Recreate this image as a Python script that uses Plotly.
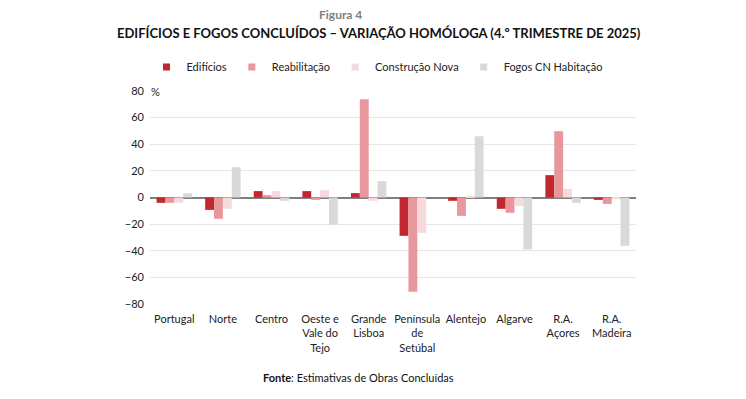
import plotly.graph_objects as go

categories = ["Portugal", "Norte", "Centro", "Oeste e<br>Vale do<br>Tejo", "Grande<br>Lisboa",
              "Península<br>de<br>Setúbal", "Alentejo", "Algarve", "R.A.<br>Açores", "R.A.<br>Madeira"]
edificios = [-4.0, -9.3, 4.8, 4.8, 3.3, -28.8, -2.5, -8.5, 16.8, -1.8]
reabilitacao = [-4.0, -16.0, 1.8, -1.8, 73.8, -70.8, -13.8, -11.5, 49.8, -4.8]
construcao_nova = [-4.0, -8.5, 4.8, 5.5, -2.5, -26.5, 1.0, -6.3, 6.5, -1.3]
fogos_cn = [3.2, 22.8, -2.5, -20.5, 12.3, 0.0, 46.0, -39.0, -4.0, -36.3]
y_ticks = [-80, -60, -40, -20, 0, 20, 40, 60, 80]

series = [
    ("Edifícios", edificios, "#C0272F"),
    ("Reabilitação", reabilitacao, "#E8979D"),
    ("Construção Nova", construcao_nova, "#F8D9DB"),
    ("Fogos CN Habitação", fogos_cn, "#D9D9D9"),
]

# The page body has an 8px default margin; the figure is sized to fit the 746x399 window.
OFF = 8
W, H = 746 - OFF, 399 - OFF
PL, PR, PT, PB = 150 - OFF, 636 - OFF, 91 - OFF, 304 - OFF  # plot area in figure px
PW, PH = PR - PL, PB - PT

def px(xp):  # page x -> paper x
    return (xp - OFF - PL) / PW

def py(yp):  # page y -> paper y
    return (PB - (yp - OFF)) / PH

FONT = "Lato"
fig = go.Figure()
for name, vals, col in series:
    fig.add_trace(go.Bar(x=categories, y=vals, name=name, marker_color=col,
                         marker_line_width=0, showlegend=False))
for name, vals, col in series:
    fig.add_trace(go.Scatter(x=[None], y=[None], mode="markers", name=name,
                             marker=dict(symbol="square", size=7, color=col)))

fig.update_layout(
    width=W, height=H,
    margin=dict(l=PL, r=W - PR, t=PT, b=H - PB),
    paper_bgcolor="white", plot_bgcolor="white",
    barmode="group", bargap=0.27, bargroupgap=0,
    font=dict(family=FONT, size=11, color="#222222"),
    showlegend=True,
    legend=dict(orientation="h", x=px(377), xanchor="center",
                y=1 - (67 - OFF) / H, yanchor="middle", yref="container",
                font=dict(size=11, color="#222222"), tracegroupgap=0),
    xaxis=dict(showgrid=False, showline=False, ticks="", tickangle=0,
               tickfont=dict(size=11), ticklabelstandoff=7, automargin=False),
    yaxis=dict(range=[-80, 80], tickvals=y_ticks, showgrid=True, gridcolor="#E6E6E6",
               gridwidth=1, zeroline=True, zerolinecolor="#7F7F7F", zerolinewidth=1.5,
               showline=False, ticks="", ticklabelstandoff=5, tickfont=dict(size=11),
               automargin=False),
)

fig.add_annotation(text="Figura 4", xref="paper", yref="paper", x=px(340), y=py(15),
                   xanchor="center", yanchor="middle", showarrow=False,
                   font=dict(size=12, color="#7F7F7F", family=FONT, weight="bold"))
fig.add_annotation(text="<b>EDIFÍCIOS E FOGOS CONCLUÍDOS – VARIAÇÃO HOMÓLOGA (4.º TRIMESTRE DE 2025)</b>",
                   xref="paper", yref="paper", x=px(379), y=py(33),
                   xanchor="center", yanchor="middle", showarrow=False,
                   font=dict(size=13, color="#111111", family=FONT))
fig.add_annotation(text="%", xref="paper", yref="paper", x=px(149), y=py(92),
                   xanchor="left", yanchor="middle", showarrow=False,
                   font=dict(size=11, color="#222222"))
fig.add_annotation(text="<b>Fonte</b>: Estimativas de Obras Concluídas",
                   xref="paper", yref="paper", x=px(358), y=py(377),
                   xanchor="center", yanchor="middle", showarrow=False,
                   font=dict(size=11, color="#111111"))

fig.write_html("out.html")
